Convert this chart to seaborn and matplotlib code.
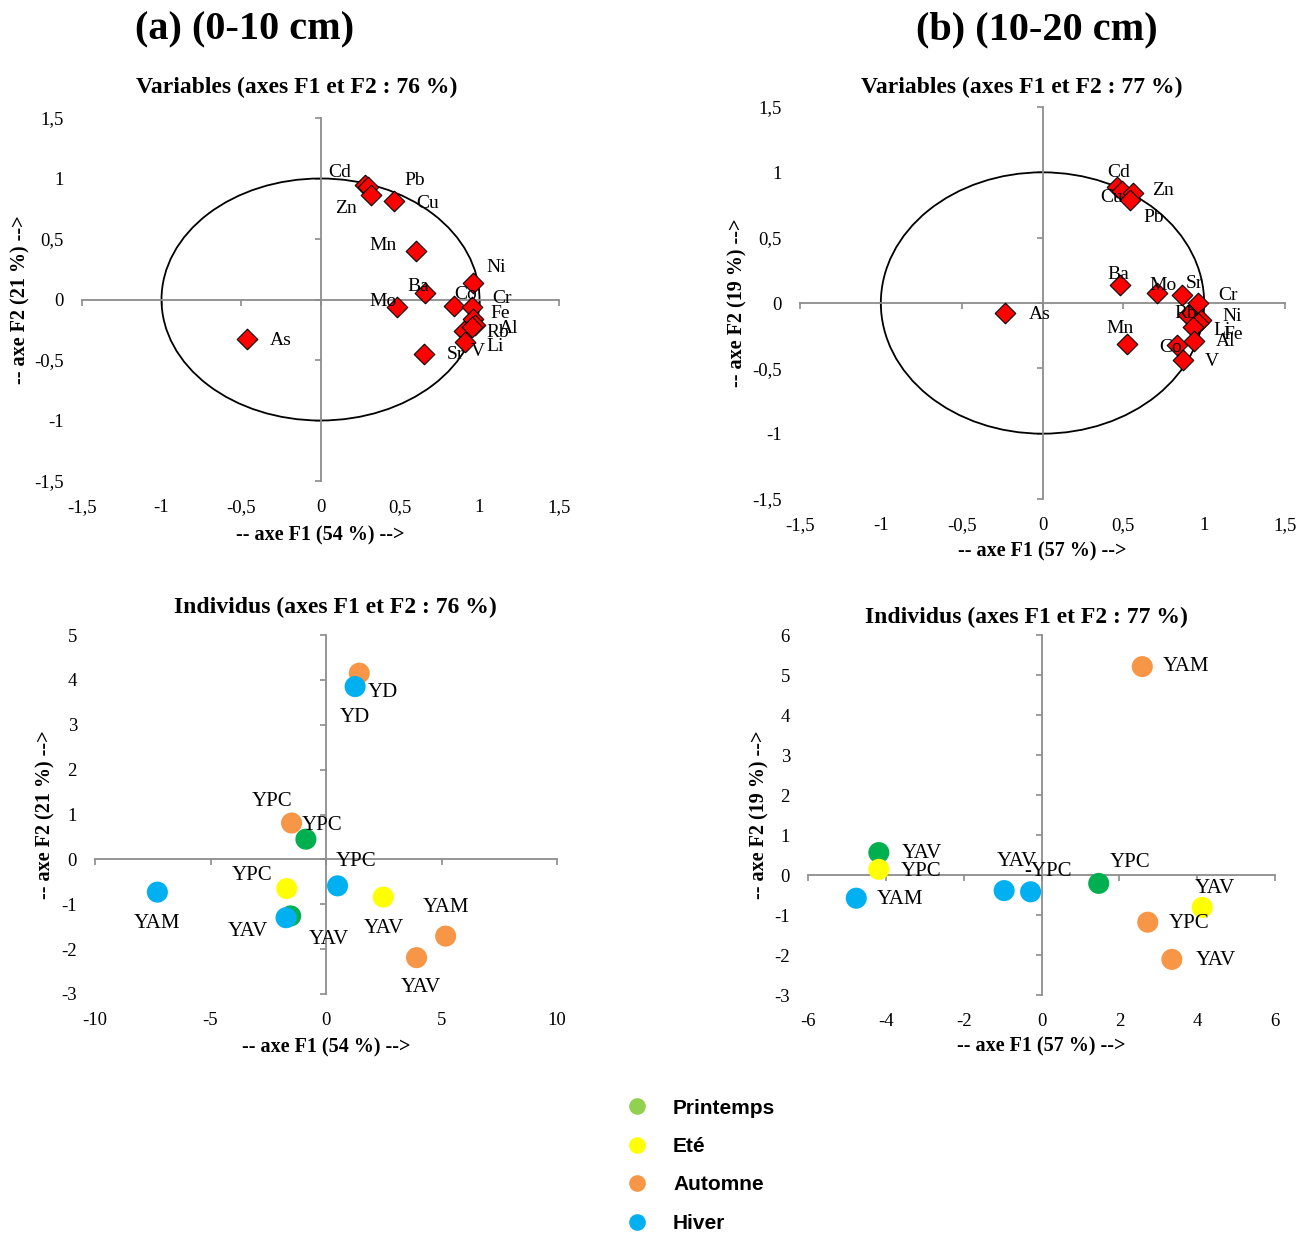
import numpy as np
import pandas as pd
import matplotlib
matplotlib.use("Agg")
import matplotlib.pyplot as plt
from matplotlib.patches import Ellipse
from matplotlib.lines import Line2D
from matplotlib.ticker import FuncFormatter
import seaborn as sns

# --- (a) 0-10 cm : variables ---
vars_a = ["Cd", "Pb", "Zn", "Cu", "Mn", "Ni", "Ba", "Mo", "Co", "Cr", "Fe", "Al", "Rb", "Li", "V", "Sr", "As"]
f1_vars_a = [0.28, 0.30, 0.32, 0.46, 0.60, 0.96, 0.66, 0.48, 0.84, 0.95, 0.96, 0.97, 0.90, 0.95, 0.91, 0.65, -0.46]
f2_vars_a = [0.95, 0.93, 0.86, 0.81, 0.40, 0.14, 0.05, -0.06, -0.05, -0.06, -0.16, -0.21, -0.26, -0.23, -0.35, -0.45, -0.33]

# --- (b) 10-20 cm : variables ---
vars_b = ["Cd", "Cu", "Zn", "Pb", "Ba", "Mo", "Sr", "Cr", "Rb", "Ni", "Fe", "Li", "Al", "Mn", "Co", "V", "As"]
f1_vars_b = [0.46, 0.49, 0.56, 0.54, 0.48, 0.71, 0.86, 0.96, 0.90, 0.98, 0.96, 0.93, 0.94, 0.52, 0.83, 0.87, -0.23]
f2_vars_b = [0.89, 0.86, 0.84, 0.79, 0.14, 0.08, 0.06, 0.00, -0.09, -0.13, -0.15, -0.18, -0.29, -0.31, -0.32, -0.44, -0.08]

# --- (a) individuals ---
sites_a = ["YD", "YD", "YPC", "YPC", "YPC", "YPC", "YAM", "YAV", "YAV", "YAV", "YAM", "YAV"]
season_a = ["Automne", "Hiver", "Automne", "Printemps", "Eté", "Hiver", "Hiver", "Eté", "Printemps", "Hiver", "Automne", "Automne"]
f1_ind_a = [1.44, 1.26, -1.49, -0.87, -1.70, 0.50, -7.30, 2.48, -1.53, -1.73, 5.18, 3.92]
f2_ind_a = [4.15, 3.85, 0.81, 0.45, -0.65, -0.59, -0.73, -0.84, -1.26, -1.30, -1.71, -2.19]

# --- (b) individuals ---
sites_b = ["YAM", "YAV", "YPC", "YAM", "YAV", "-YPC", "YPC", "YAV", "YPC", "YAV"]
season_b = ["Automne", "Printemps", "Eté", "Hiver", "Hiver", "Hiver", "Printemps", "Eté", "Automne", "Automne"]
f1_ind_b = [2.59, -4.18, -4.18, -4.76, -0.96, -0.28, 1.47, 4.13, 2.73, 3.35]
f2_ind_b = [5.21, 0.56, 0.14, -0.58, -0.39, -0.42, -0.21, -0.81, -1.18, -2.11]

seasons = ["Printemps", "Eté", "Automne", "Hiver"]
season_colors = {"Printemps": "#00B050", "Eté": "#FFFF00", "Automne": "#F79646", "Hiver": "#00B0F0"}
legend_colors = ["#92D050", "#FFFF00", "#F79646", "#00B0F0"]

# label offsets in pixels (layout only)
off_vars_a = [(-25, 12), (47, 6), (-25, -13), (34, -2), (-33, 6), (23, 15), (-7, 7), (-14, 5), (12, 11),
              (30, 8), (27, 5), (34, -4), (34, -2), (24, -19), (13, -10), (32, -1), (33, -1)]
off_vars_b = [(2, 14), (-10, -7), (30, 3), (24, -18), (-2, 10), (6, 7), (13, 12), (30, 8), (-2, 1),
              (31, 3), (35, -12), (29, -4), (31, -1), (-7, 15), (-6, -3), (29, -1), (34, -1)]
off_ind_a = [(24, -19), (0, -31), (-20, 22), (16, 14), (-35, 13), (18, 24), (0, -31), (1, -31),
             (38, -24), (-38, -14), (0, 29), (4, -30)]
off_ind_b = [(44, 0), (43, -1), (42, -2), (44, -1), (13, 29), (17, 20), (31, 21), (13, 19), (41, -1), (44, -1)]

sns.set_theme(style="white")
plt.rcParams["font.family"] = ["Liberation Serif", "DejaVu Serif"]
plt.rcParams["text.color"] = "black"
plt.rcParams["xtick.color"] = "black"
plt.rcParams["ytick.color"] = "black"
plt.rcParams["axes.labelcolor"] = "black"

fig = plt.figure(figsize=(13.02, 12.35), dpi=100)
W, H = 1302, 1235


def add_ax(x0, x1, ytop, ybot):
    return fig.add_axes([x0 / W, 1 - ybot / H, (x1 - x0) / W, (ybot - ytop) / H])


def comma(v, pos):
    return ("%g" % v).replace(".", ",")


def excel_axes(ax, xlim, ylim, xticks, yticks):
    ax.set_xlim(*xlim)
    ax.set_ylim(*ylim)
    for side in ["top", "right"]:
        ax.spines[side].set_visible(False)
    for side in ["left", "bottom"]:
        ax.spines[side].set_position(("data", 0))
        ax.spines[side].set_color("#8c8c8c")
        ax.spines[side].set_linewidth(1.3)
    ax.set_xticks(xticks)
    ax.set_yticks(yticks)
    ax.tick_params(axis="both", direction="out", length=4, width=1.2, color="#8c8c8c",
                   labelbottom=False, labelleft=False, bottom=True, left=True)
    sx = ax.secondary_xaxis("bottom")
    sx.set_xticks(xticks)
    sx.xaxis.set_major_formatter(FuncFormatter(comma))
    sx.tick_params(length=0, pad=13, labelsize=13.5, labelcolor="black")
    sy = ax.secondary_yaxis("left")
    sy.set_yticks(yticks)
    sy.yaxis.set_major_formatter(FuncFormatter(comma))
    sy.tick_params(length=0, pad=13, labelsize=13.5, labelcolor="black")
    for s in list(sx.spines.values()) + list(sy.spines.values()):
        s.set_visible(False)
    ax.grid(False)
    ax.set_facecolor("none")


def labels(ax, xs, ys, names, offs, size):
    for x, y, n, (dx, dy) in zip(xs, ys, names, offs):
        ax.annotate(n, (x, y), xytext=(dx, dy), textcoords="offset pixels",
                    ha="center", va="center", fontsize=size, color="black")


def axis_titles(ax, title, tx, ty, xl, xly, yl, ylx):
    ax.text(tx, ty, title, transform=ax.transAxes, ha="center", va="center",
            fontsize=17, fontweight="bold")
    ax.text(0.5, xly, xl, transform=ax.transAxes, ha="center", va="center",
            fontsize=14.5, fontweight="bold")
    ax.text(ylx, 0.5, yl, transform=ax.transAxes, ha="center", va="center",
            rotation=90, fontsize=14.5, fontweight="bold")


# ---------- top-left ----------
ax1 = add_ax(82, 559, 118, 481)
excel_axes(ax1, (-1.5, 1.5), (-1.5, 1.5), np.arange(-1.5, 1.51, 0.5), np.arange(-1.5, 1.51, 0.5))
ax1.add_patch(Ellipse((0, 0), 2, 2, fill=False, color="black", lw=1.3))
dva = pd.DataFrame({"F1": f1_vars_a, "F2": f2_vars_a, "var": vars_a})
sns.scatterplot(data=dva, x="F1", y="F2", marker="D", color="#FF0000", edgecolor="black",
                linewidth=0.8, s=110, ax=ax1, zorder=3)
labels(ax1, f1_vars_a, f2_vars_a, vars_a, off_vars_a, 14)
ax1.set_xlabel("")
ax1.set_ylabel("")
axis_titles(ax1, "Variables (axes F1 et F2 : 76 %)", 0.45, 1.085,
            "-- axe F1 (54 %) -->", -0.149, "-- axe F2 (21 %) -->", -0.13)

# ---------- top-right ----------
ax2 = add_ax(800, 1285, 107, 499)
excel_axes(ax2, (-1.5, 1.5), (-1.5, 1.5), np.arange(-1.5, 1.51, 0.5), np.arange(-1.5, 1.51, 0.5))
ax2.add_patch(Ellipse((0, 0), 2, 2, fill=False, color="black", lw=1.3))
dvb = pd.DataFrame({"F1": f1_vars_b, "F2": f2_vars_b, "var": vars_b})
sns.scatterplot(data=dvb, x="F1", y="F2", marker="D", color="#FF0000", edgecolor="black",
                linewidth=0.8, s=110, ax=ax2, zorder=3)
labels(ax2, f1_vars_b, f2_vars_b, vars_b, off_vars_b, 14)
ax2.set_xlabel("")
ax2.set_ylabel("")
axis_titles(ax2, "Variables (axes F1 et F2 : 77 %)", 0.458, 1.051,
            "-- axe F1 (57 %) -->", -0.135, "-- axe F2 (19 %) -->", -0.128)

# ---------- bottom-left ----------
ax3 = add_ax(95, 557, 635, 994)
excel_axes(ax3, (-10, 10), (-3, 5), np.arange(-10, 11, 5), np.arange(-3, 6, 1))
dia = pd.DataFrame({"F1": f1_ind_a, "F2": f2_ind_a, "site": sites_a, "saison": season_a})
sns.scatterplot(data=dia, x="F1", y="F2", hue="saison", palette=season_colors,
                hue_order=seasons, s=230, linewidth=0, legend=False, ax=ax3, zorder=3)
labels(ax3, f1_ind_a, f2_ind_a, sites_a, off_ind_a, 15)
ax3.set_xlabel("")
ax3.set_ylabel("")
axis_titles(ax3, "Individus (axes F1 et F2 : 76 %)", 0.52, 1.078,
            "-- axe F1 (54 %) -->", -0.148, "-- axe F2 (21 %) -->", -0.108)

# ---------- bottom-right ----------
ax4 = add_ax(808, 1275, 635, 995)
excel_axes(ax4, (-6, 6), (-3, 6), np.arange(-6, 7, 2), np.arange(-3, 7, 1))
dib = pd.DataFrame({"F1": f1_ind_b, "F2": f2_ind_b, "site": sites_b, "saison": season_b})
sns.scatterplot(data=dib, x="F1", y="F2", hue="saison", palette=season_colors,
                hue_order=seasons, s=230, linewidth=0, legend=False, ax=ax4, zorder=3)
labels(ax4, f1_ind_b, f2_ind_b, sites_b, off_ind_b, 15)
ax4.set_xlabel("")
ax4.set_ylabel("")
axis_titles(ax4, "Individus (axes F1 et F2 : 77 %)", 0.467, 1.05,
            "-- axe F1 (57 %) -->", -0.144, "-- axe F2 (19 %) -->", -0.103)

# ---------- headings ----------
fig.text(245 / W, 1 - 30 / H, "(a) (0-10 cm)", ha="center", va="center", fontsize=29, fontweight="bold")
fig.text(1037 / W, 1 - 30 / H, "(b) (10-20 cm)", ha="center", va="center", fontsize=29, fontweight="bold")

# ---------- legend ----------
handles = [Line2D([], [], marker="o", linestyle="", markersize=12, markerfacecolor=c,
                  markeredgewidth=0, label=l) for l, c in zip(seasons, legend_colors)]
leg = fig.legend(handles=handles, loc="upper left", bbox_to_anchor=(597 / W, 1 - 1080 / H),
                 frameon=False, labelspacing=0.93, handletextpad=0.75,
                 prop={"family": "Liberation Sans", "weight": "bold", "size": 15})

fig.savefig("out.png", dpi=100)
